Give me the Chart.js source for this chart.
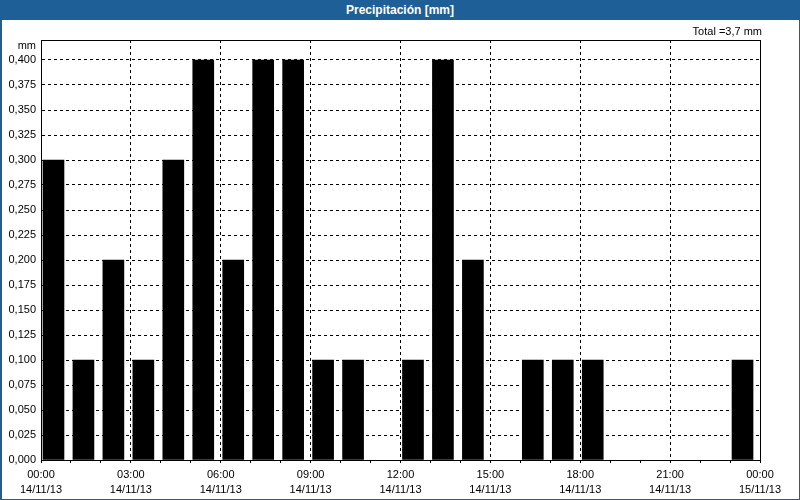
<!DOCTYPE html>
<html>
<head>
<meta charset="utf-8">
<script src="https://cdn.jsdelivr.net/npm/chart.js@4/dist/chart.umd.min.js"></script>
<style>
  html, body { margin: 0; padding: 0; background: #fff; }
  #wrap { position: relative; width: 800px; height: 500px; overflow: hidden; background: #fff; font-family: "Liberation Sans", Arial, sans-serif; }
  #chart { position: absolute; left: 0; top: 0; }
  #titlebar { position: absolute; left: 0; top: 0; width: 800px; height: 20px; background: #1f5f97; color: #fff;
              font: bold 12px "Liberation Sans", Arial, sans-serif; text-align: center; line-height: 20px; }
  .bl { position: absolute; background: #1f5f97; }
  #unit { position: absolute; right: 764px; top: 39px; font-size: 11px; color: #000; text-align: right; }
  #total { position: absolute; right: 38px; top: 25px; font-size: 11px; color: #000; white-space: nowrap; }
</style>
</head>
<body>
<div id="wrap">
  <canvas id="chart" width="800" height="500"></canvas>
  <div id="titlebar"></div>
  <div class="bl" style="left:0;top:20px;width:2px;height:480px"></div>
  <div class="bl" style="right:0;top:20px;width:1px;height:480px"></div>
  <div class="bl" style="left:0;bottom:0;width:800px;height:1px"></div>
  <div id="unit"></div>
  <div id="total"></div>
</div>
<script>
// ---- data ----
const chartTitle = "Precipitación [mm]";
const unitLabel = "mm";
const hours = [0,1,2,3,4,5,6,7,8,9,10,11,12,13,14,15,16,17,18,19,20,21,22,23];
const precip = [0.3,0.1,0.2,0.1,0.3,0.4,0.2,0.4,0.4,0.1,0.1,0,0.1,0.4,0.2,0,0.1,0.1,0.1,0,0,0,0,0.1];
const xTickTimes = ["00:00","03:00","06:00","09:00","12:00","15:00","18:00","21:00","00:00"];
const xTickDates = ["14/11/13","14/11/13","14/11/13","14/11/13","14/11/13","14/11/13","14/11/13","14/11/13","15/11/13"];
const yTickStep = 0.025;

document.getElementById('titlebar').textContent = chartTitle;
document.getElementById('unit').textContent = unitLabel;
const total = precip.reduce((a, b) => a + b, 0);
document.getElementById('total').textContent = "Total =" + total.toFixed(1).replace('.', ',') + " mm";

Chart.defaults.font.family = '"Liberation Sans", Arial, sans-serif';
Chart.defaults.font.size = 11;
Chart.defaults.color = '#000';

const BAR_POS = 12.5 / 30; // bar sits slightly left of the hour's centre

const framePlugin = {
  id: 'frame',
  afterDraw(chart) {
    const {ctx, chartArea: a} = chart;
    ctx.save();
    ctx.strokeStyle = '#000';
    ctx.lineWidth = 1;
    ctx.beginPath();
    ctx.moveTo(a.left, a.top + 0.5);
    ctx.lineTo(a.right + 1, a.top + 0.5);
    ctx.moveTo(a.right + 0.5, a.top);
    ctx.lineTo(a.right + 0.5, a.bottom + 1);
    ctx.stroke();
    ctx.restore();
  }
};

new Chart(document.getElementById('chart'), {
  type: 'bar',
  data: {
    datasets: [{
      data: hours.map((h, i) => ({x: h + BAR_POS, y: precip[i]})),
      backgroundColor: c => (c.raw && c.raw.y > 0) ? '#000' : 'rgba(0,0,0,0)',
      borderWidth: 0,
      borderSkipped: false,
      barThickness: 21
    }]
  },
  options: {
    responsive: false,
    animation: false,
    layout: { padding: { left: 0, top: 40, right: 40, bottom: 0 } },
    plugins: { legend: { display: false }, tooltip: { enabled: false }, title: { display: false } },
    scales: {
      x: {
        type: 'linear',
        min: 0, max: 24,
        offset: false,
        grid: {
          offset: false,
          drawTicks: true,
          tickLength: 3,
          lineWidth: 1,
          color: c => (c.tick && c.tick.value % 3 === 0 && c.tick.value > 0 && c.tick.value < 24) ? '#000' : 'rgba(0,0,0,0)',
          tickColor: '#000',
          tickBorderDash: []
        },
        border: { display: true, color: '#000', width: 1, dash: [3, 3] },
        ticks: {
          stepSize: 1,
          autoSkip: false,
          maxRotation: 0,
          minRotation: 0,
          padding: 5,
          font: { size: 11, lineHeight: 1.35 },
          callback: v => {
            if (v % 3 !== 0) return '';
            const i = v / 3;
            return [xTickTimes[i], xTickDates[i]];
          }
        },
        afterFit: s => { s.height = 40; }
      },
      y: {
        min: 0, max: 0.42,
        grid: {
          drawTicks: false,
          lineWidth: 1,
          color: c => (c.tick && c.tick.value > 0) ? '#000' : 'rgba(0,0,0,0)'
        },
        border: { display: true, color: '#000', width: 1, dash: [3, 3] },
        ticks: {
          stepSize: yTickStep,
          includeBounds: false,
          padding: 5,
          font: { size: 11 },
          callback: v => v.toFixed(3).replace('.', ',')
        },
        afterFit: s => { s.width = 41; }
      }
    }
  },
  plugins: [framePlugin]
});
</script>
</body>
</html>
